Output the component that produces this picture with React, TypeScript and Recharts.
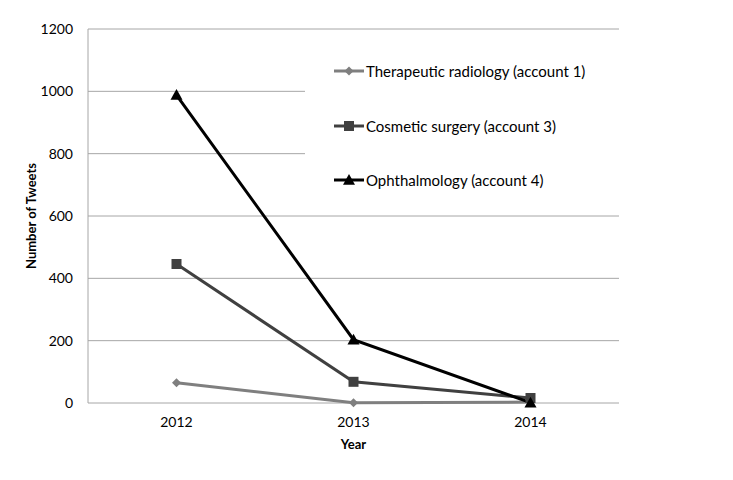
import React from 'react';
import { LineChart, Line, XAxis, YAxis, CartesianGrid } from 'recharts';

const years = ['2012', '2013', '2014'];
const therapeutic = [65, 1, 3];
const cosmetic = [446, 68, 16];
const ophthalmology = [988, 203, 1];
const yTicks = [0, 200, 400, 600, 800, 1000, 1200];

const data = years.map((y, i) => ({
  year: y,
  therapeutic: therapeutic[i],
  cosmetic: cosmetic[i],
  ophthalmology: ophthalmology[i],
}));

const FONT = 'Lato, "Open Sans", sans-serif';

const series = [
  { key: 'therapeutic', name: 'Therapeutic radiology (account 1)', color: '#7f7f7f', shape: 'diamond' },
  { key: 'cosmetic', name: 'Cosmetic surgery (account 3)', color: '#404040', shape: 'square' },
  { key: 'ophthalmology', name: 'Ophthalmology (account 4)', color: '#000000', shape: 'triangle' },
];

function Marker({ cx, cy, shape, color }: any) {
  if (cx == null || cy == null) return null;
  if (shape === 'diamond') {
    const s = 4.5;
    return <path d={`M${cx},${cy - s}L${cx + s},${cy}L${cx},${cy + s}L${cx - s},${cy}Z`} fill={color} />;
  }
  if (shape === 'square') {
    const s = 5;
    return <rect x={cx - s} y={cy - s} width={2 * s} height={2 * s} fill={color} />;
  }
  const s = 6;
  return <path d={`M${cx},${cy - s}L${cx + s},${cy + s * 0.8}L${cx - s},${cy + s * 0.8}Z`} fill={color} />;
}

function LegendBox() {
  return (
    <div style={{ position: 'absolute', left: 297, top: 32, background: '#fff', width: 330, height: 166 }}>
      {series.map((s, i) => (
        <div
          key={s.key}
          style={{
            position: 'absolute',
            left: 28,
            top: 22 + i * 54.5,
            display: 'flex',
            alignItems: 'center',
            fontFamily: FONT,
            fontSize: 15,
            lineHeight: '18px',
            color: '#000',
            whiteSpace: 'nowrap',
          }}
        >
          <svg width={32} height={14}>
            <line x1={1} y1={7} x2={31} y2={7} stroke={s.color} strokeWidth={3} />
            <Marker cx={16} cy={7} shape={s.shape} color={s.color} />
          </svg>
          <span style={{ marginLeft: 1 }}>{s.name}</span>
        </div>
      ))}
    </div>
  );
}

function YTitle({ viewBox }: any) {
  const cx = viewBox.x + viewBox.width - 57;
  const cy = viewBox.y + viewBox.height / 2;
  return (
    <text
      x={cx}
      y={cy}
      transform={`rotate(-90 ${cx} ${cy})`}
      textAnchor="middle"
      dominantBaseline="central"
      fill="#000"
      fontSize={13}
      fontWeight="bold"
      fontFamily={FONT}
    >
      Number of Tweets
    </text>
  );
}

export default function App() {
  return (
    <div style={{ position: 'relative', width: 733, height: 480 }}>
      <LineChart width={733} height={480} data={data} margin={{ top: 21, right: 122, bottom: 25, left: 30 }}>
        <CartesianGrid horizontal vertical={false} stroke="#a6a6a6" strokeWidth={1} />
        <XAxis
          dataKey="year"
          axisLine={false}
          tickLine={false}
          tickSize={0}
          tickMargin={14}
          padding={{ left: 88.5, right: 88.5 }}
          tick={{ fill: '#000', fontSize: 14, fontFamily: FONT }}
          label={{ value: 'Year', position: 'insideBottom', offset: 14, fill: '#000', fontSize: 13, fontWeight: 'bold', fontFamily: FONT }}
          height={60}
        />
        <YAxis
          domain={[0, 1200]}
          ticks={yTicks}
          interval={0}
          width={50}
          axisLine={{ stroke: '#a6a6a6' }}
          tickLine={false}
          tickSize={0}
          tickMargin={15}
          tick={{ fill: '#000', fontSize: 14, fontFamily: FONT }}
          label={{ content: (p: any) => <YTitle {...p} /> }}
        />
        {series.map((s) => (
          <Line
            key={s.key}
            dataKey={s.key}
            name={s.name}
            stroke={s.color}
            strokeWidth={3}
            isAnimationActive={false}
            dot={(p: any) => <Marker key={`${s.key}-${p.index}`} cx={p.cx} cy={p.cy} shape={s.shape} color={s.color} />}
            activeDot={false}
          />
        ))}
      </LineChart>
      <LegendBox />
    </div>
  );
}
